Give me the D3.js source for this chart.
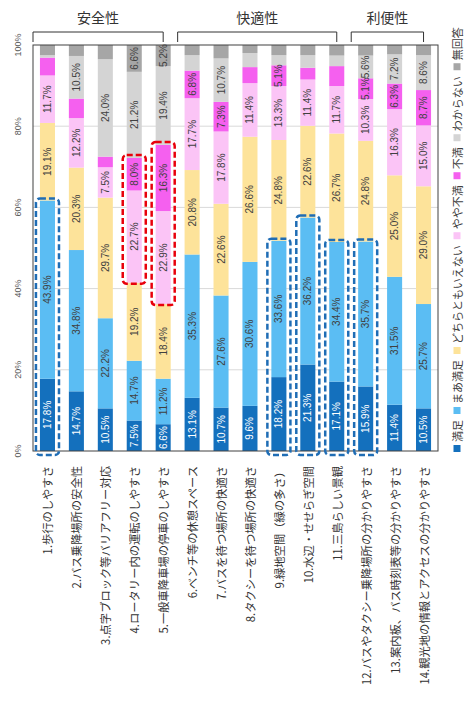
<!DOCTYPE html>
<html><head><meta charset="utf-8">
<script src="https://cdn.jsdelivr.net/npm/d3@7"></script>
<style>
html,body{margin:0;padding:0;background:#fff;}
svg{display:block;}
</style>
</head><body>
<svg id="chart" width="466" height="704"></svg>
<script>
// ---- data ----
const categories = [
  "1.歩行のしやすさ",
  "2.バス乗降場所の安全性",
  "3.点字ブロック等バリアフリー対応",
  "4.ロータリー内の運転のしやすさ",
  "5.一般車降車場の停車のしやすさ",
  "6.ベンチ等の休憩スペース",
  "7.バスを待つ場所の快適さ",
  "8.タクシーを待つ場所の快適さ",
  "9.緑地空間（緑の多さ）",
  "10.水辺・せせらぎ空間",
  "11.三島らしい景観",
  "12.バスやタクシー乗降場所の分かりやすさ",
  "13.案内板、バス時刻表等の分かりやすさ",
  "14.観光地の情報とアクセスの分かりやすさ"
];
const seriesNames = ["満足","まあ満足","どちらともいえない","やや不満","不満","わからない","無回答"];
const manzoku    = [17.8,14.7,10.5, 7.5, 6.6,13.1,10.7, 9.6,18.2,21.3,17.1,15.9,11.4,10.5];
const maaManzoku = [43.9,34.8,22.2,14.7,11.2,35.3,27.6,30.6,33.6,36.2,34.4,35.7,31.5,25.7];
const dochiramo  = [19.1,20.3,29.7,19.2,18.4,20.8,22.6,26.6,24.8,22.6,26.7,24.8,25.0,29.0];
const yayaFuman  = [11.7,12.2, 7.5,22.7,22.9,17.7,17.8,11.4,13.3,11.4,11.7,10.3,16.3,15.0];
const fuman      = [ 4.4, 4.8, 2.6, 8.0,16.3, 6.8, 7.3, 3.4, 5.1, 2.9, 4.9, 5.1, 6.3, 8.7];
const wakaranai  = [ 0.6,10.5,24.0,21.2,19.4, 3.8,10.7, 3.0, 2.5, 3.1, 2.6, 5.6, 7.2, 8.6];
const mukaitou   = [ 2.5, 2.7, 3.5, 6.6, 5.2, 2.5, 3.3, 1.7, 2.5, 2.5, 2.6, 2.6, 2.3, 2.5];
const seriesValues = [manzoku, maaManzoku, dochiramo, yayaFuman, fuman, wakaranai, mukaitou];
const colors = ["#1470bd","#5bbdf3","#fde39a","#fbc4f6","#f560ef","#d4d4d4","#a6a6a6"];
const tickValues = [0, 0.2, 0.4, 0.6, 0.8, 1.0];
const tickLabels = ["0%","20%","40%","60%","80%","100%"];
const groupNames = ["安全性","快適性","利便性"];
const groupFirst = [0, 5, 11];
const groupLast  = [4, 10, 13];
const blueBoxes = [0, 8, 9, 10, 11];   // 満足+まあ満足
const redBoxes  = [3, 4];              // やや不満+不満

// ---- build ----
const rows = categories.map((c, i) => {
  const r = {cat: c};
  seriesNames.forEach((s, k) => r[s] = seriesValues[k][i]);
  return r;
});
const stacked = d3.stack().keys(seriesNames).offset(d3.stackOffsetExpand)(rows);

const svg = d3.select("#chart");
const L = 33, R = 438, T = 45, B = 451;
const x = d3.scaleBand().domain(categories).range([L, R]).paddingInner(0.48).paddingOuter(0.24);
const y = d3.scaleLinear().domain([0, 1]).range([B, T]);
const numFont = "'Liberation Sans', Arial, sans-serif";
const jpFont = "'Noto Sans CJK JP', sans-serif";

// gridlines
svg.append("g").selectAll("line").data(tickValues.slice(1, -1)).join("line")
  .attr("x1", L).attr("x2", R).attr("y1", d => y(d)).attr("y2", d => y(d))
  .attr("stroke", "#d9d9d9").attr("stroke-width", 1);

// bars
const layer = svg.append("g").selectAll("g").data(stacked).join("g")
  .attr("fill", (d, i) => colors[i]);
layer.selectAll("rect").data(d => d.map(p => ({p, key: d.key}))).join("rect")
  .attr("x", d => x(d.p.data.cat))
  .attr("width", x.bandwidth())
  .attr("y", d => y(d.p[1]))
  .attr("height", d => y(d.p[0]) - y(d.p[1]));

// value labels
const lab = [];
stacked.forEach((s, k) => s.forEach(p => {
  const v = p.data[s.key];
  if (v >= 5) lab.push({v, k, cx: x(p.data.cat) + x.bandwidth() / 2, cy: (y(p[0]) + y(p[1])) / 2});
}));
svg.append("g").selectAll("text").data(lab).join("text")
  .attr("transform", d => `translate(${d.cx},${d.cy}) rotate(-90)`)
  .attr("text-anchor", "middle").attr("dominant-baseline", "central")
  .attr("font-family", numFont).attr("font-size", 10)
  .attr("fill", d => d.k === 0 ? "#ffffff" : "#404040")
  .text(d => d.v.toFixed(1) + "%");

// frame
svg.append("rect").attr("x", L).attr("y", T).attr("width", R - L).attr("height", B - T)
  .attr("fill", "none").attr("stroke", "#404040").attr("stroke-width", 1);

// highlight boxes
function boxFor(i, k0, k1, color, padTop, padBot) {
  const c = categories[i];
  const top = y(stacked[k1][i][1]) - padTop;
  const bot = y(stacked[k0][i][0]) + padBot;
  svg.append("rect")
    .attr("x", x(c) - 4).attr("width", x.bandwidth() + 8)
    .attr("y", top).attr("height", bot - top)
    .attr("rx", 4).attr("ry", 4)
    .attr("fill", "none").attr("stroke", color).attr("stroke-width", 2.5)
    .attr("stroke-dasharray", "6 3");
}
blueBoxes.forEach(i => boxFor(i, 0, 1, "#1f6db5", 2, 4));
redBoxes.forEach(i => boxFor(i, 3, 4, "#e8000b", 3, 1));

// y tick labels
svg.append("g").selectAll("text").data(tickValues).join("text")
  .attr("transform", (d) => `translate(18,${y(d)}) rotate(-90)`)
  .attr("text-anchor", "middle").attr("dominant-baseline", "central")
  .attr("font-family", numFont).attr("font-size", 9).attr("fill", "#595959")
  .text((d, i) => tickLabels[i]);

// category labels
svg.append("g").selectAll("text").data(categories).join("text")
  .attr("transform", d => `translate(${x(d) + x.bandwidth() / 2},466) rotate(-90)`)
  .attr("text-anchor", "end").attr("dominant-baseline", "central")
  .attr("font-family", jpFont).attr("font-size", 11.3).attr("fill", "#333")
  .text(d => d);

// group brackets
groupNames.forEach((g, j) => {
  const x0 = x(categories[groupFirst[j]]) - x.step() * x.paddingInner() / 2;
  const x1 = x(categories[groupLast[j]]) + x.bandwidth() / 2;
  svg.append("path")
    .attr("d", `M${x0},42 V32 H${x1} V42`)
    .attr("fill", "none").attr("stroke", "#333").attr("stroke-width", 1);
  svg.append("text")
    .attr("x", (x0 + x1) / 2).attr("y", 17)
    .attr("text-anchor", "middle").attr("dominant-baseline", "central")
    .attr("font-family", jpFont).attr("font-size", 14).attr("fill", "#333")
    .text(g);
});

// legend (reads bottom to top)
const lg = svg.append("g").attr("transform", "translate(457,452) rotate(-90)");
let off = 0;
seriesNames.forEach((s, k) => {
  lg.append("rect").attr("x", off).attr("y", -3.5).attr("width", 7).attr("height", 7).attr("fill", colors[k]);
  const t = lg.append("text").attr("x", off + 10).attr("y", 0)
    .attr("dominant-baseline", "central")
    .attr("font-family", jpFont).attr("font-size", 11).attr("fill", "#404040").text(s);
  off += 10 + t.node().getComputedTextLength() + 6;
});
</script>
</body></html>
